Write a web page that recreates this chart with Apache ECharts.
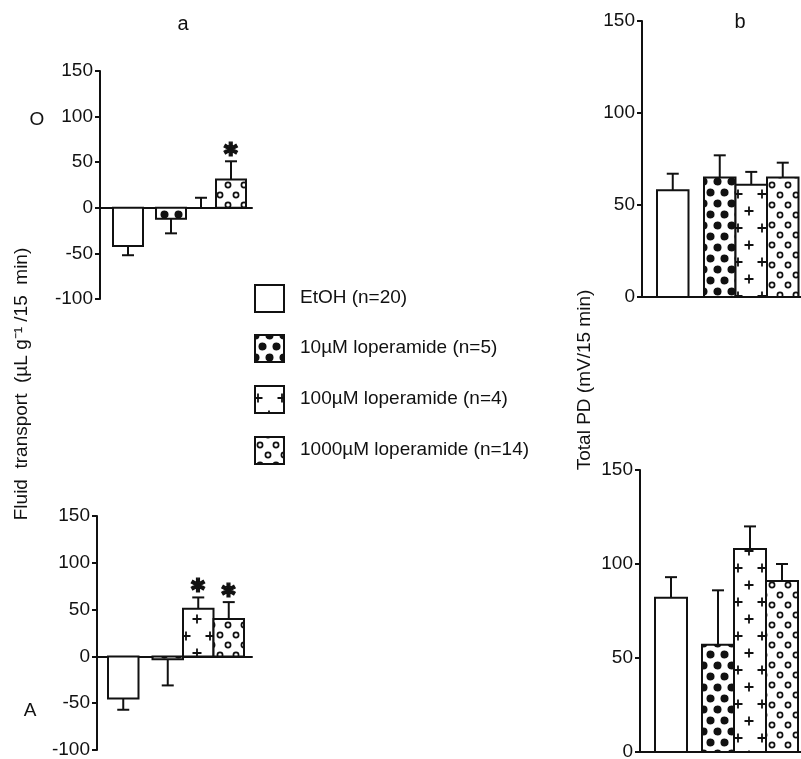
<!DOCTYPE html>
<html>
<head>
<meta charset="utf-8">
<script src="https://cdn.jsdelivr.net/npm/echarts@6/dist/echarts.min.js"></script>
<style>
  html, body { margin: 0; padding: 0; background: #fff; }
  #chart { width: 801px; height: 759px; }
</style>
</head>
<body>
<div id="chart"></div>
<script>
// groups (legend order)
const groups = ['EtOH (n=20)', '10µM loperamide (n=5)', '100µM loperamide (n=4)', '1000µM loperamide (n=14)'];

// fluid transport, panel a (O and A), mean and SEM
const fluidO = [-42, -12, 0, 31];
const fluidOErr = [10, 16, 11, 20];
const fluidOSig = [0, 0, 0, 1];
const fluidA = [-45, -3, 51, 40];
const fluidAErr = [12, 28, 12, 18];
const fluidASig = [0, 0, 1, 1];

// total PD, panel b
const pdO = [58, 65, 61, 65];
const pdOErr = [9, 12, 7, 8];
const pdA = [82, 57, 108, 91];
const pdAErr = [11, 29, 12, 9];

const fluidTicks = { min: -100, max: 150, interval: 50 };
const pdTicks = { min: 0, max: 150, interval: 50 };

const FONT = '"Liberation Sans", Arial, sans-serif';
const INK = '#111';

// fill patterns for the bars
function makePattern(kind) {
  const c = document.createElement('canvas');
  const ctx = c.getContext('2d');
  if (kind === 'dots') {
    c.width = 14; c.height = 22;
    ctx.fillStyle = '#fff'; ctx.fillRect(0, 0, 14, 22);
    ctx.fillStyle = INK;
    [[3.5, 5.5], [10.5, 16.5], [17.5, 5.5], [-3.5, 16.5], [10.5, -5.5], [3.5, 27.5]].forEach(p => {
      ctx.beginPath(); ctx.arc(p[0], p[1], 4, 0, Math.PI * 2); ctx.fill();
    });
  } else if (kind === 'plus') {
    c.width = 24; c.height = 34;
    ctx.fillStyle = '#fff'; ctx.fillRect(0, 0, 24, 34);
    ctx.strokeStyle = INK; ctx.lineWidth = 1.8;
    [[5, 7], [18, 24]].forEach(p => {
      ctx.beginPath();
      ctx.moveTo(p[0] - 4.5, p[1]); ctx.lineTo(p[0] + 4.5, p[1]);
      ctx.moveTo(p[0], p[1] - 4.5); ctx.lineTo(p[0], p[1] + 4.5);
      ctx.stroke();
    });
  } else if (kind === 'circles') {
    c.width = 16; c.height = 20;
    ctx.fillStyle = '#fff'; ctx.fillRect(0, 0, 16, 20);
    ctx.strokeStyle = INK; ctx.lineWidth = 1.7;
    [[4, 5], [12, 15]].forEach(p => {
      ctx.beginPath(); ctx.arc(p[0], p[1], 2.6, 0, Math.PI * 2); ctx.stroke();
    });
  } else {
    c.width = 4; c.height = 4;
    ctx.fillStyle = '#fff'; ctx.fillRect(0, 0, 4, 4);
  }
  return { image: c, repeat: 'repeat' };
}
const fills = ['none', 'dots', 'plus', 'circles'].map(makePattern);

// bar layout per panel (px): gap before first bar, bar width, gap after first bar
const layouts = [
  { pad: 13, barW: 30, gap: 13 },
  { pad: 11, barW: 30.5, gap: 14 },
  { pad: 15, barW: 31.5, gap: 15.5 },
  { pad: 15, barW: 32, gap: 15 }
];

function makeRender(L) {
  return function (params, api) {
    const i = api.value(0), v = api.value(1), e = api.value(2), s = api.value(3);
    const band = api.size([1, 0])[0];
    const start = api.coord([0, 0])[0] - band / 2;
    const x = start + L.pad + i * L.barW + (i > 0 ? L.gap : 0);
    const cx = x + L.barW / 2;
    const y0 = api.coord([i, 0])[1];
    const y1 = api.coord([i, v])[1];
    const y2 = api.coord([i, v + (v >= 0 ? e : -e)])[1];
    const kids = [];
    kids.push({
      type: 'line', shape: { x1: cx, y1: y1, x2: cx, y2: y2 },
      style: { stroke: INK, lineWidth: 2 }
    });
    kids.push({
      type: 'line', shape: { x1: cx - 6, y1: y2, x2: cx + 6, y2: y2 },
      style: { stroke: INK, lineWidth: 2 }
    });
    if (v !== 0) {
      kids.push({
        type: 'rect',
        shape: { x: x, y: Math.min(y0, y1), width: L.barW, height: Math.abs(y1 - y0) },
        style: { fill: fills[i], stroke: INK, lineWidth: 2 }
      });
    }
    if (s) {
      kids.push({
        type: 'text', x: cx, y: y2 - 10,
        style: { text: '✱', fill: INK, stroke: INK, lineWidth: 1.2, font: 'bold 19px "DejaVu Sans"', align: 'center', verticalAlign: 'middle' }
      });
    }
    return { type: 'group', children: kids };
  };
}

function toData(vals, errs, sig) {
  return vals.map((v, i) => [i, v, errs[i], sig ? sig[i] : 0]);
}

const grids = [
  { left: 100, top: 71, width: 152, height: 228 },
  { left: 97, top: 516, width: 155, height: 234 },
  { left: 642, top: 21, width: 160, height: 276 },
  { left: 640, top: 470, width: 161, height: 282 }
];

const panelData = [
  toData(fluidO, fluidOErr, fluidOSig),
  toData(fluidA, fluidAErr, fluidASig),
  toData(pdO, pdOErr),
  toData(pdA, pdAErr)
];
const panelTicks = [fluidTicks, fluidTicks, pdTicks, pdTicks];

const chart = echarts.init(document.getElementById('chart'), null, { renderer: 'canvas' });

const option = {
  backgroundColor: '#fff',
  animation: false,
  grid: grids.map(g => Object.assign({ outerBoundsMode: 'none', containLabel: false }, g)),
  xAxis: grids.map((g, k) => ({
    type: 'category', gridIndex: k, data: groups,
    axisLine: { show: true, onZero: true, lineStyle: { color: INK, width: 2 } },
    axisTick: { show: false }, axisLabel: { show: false }, splitLine: { show: false }
  })),
  yAxis: grids.map((g, k) => Object.assign({
    type: 'value', gridIndex: k,
    axisLine: { show: true, lineStyle: { color: INK, width: 2 } },
    axisTick: { show: true, length: 5, lineStyle: { color: INK, width: 2 } },
    axisLabel: { color: INK, fontSize: 19, fontFamily: FONT, margin: 7 },
    splitLine: { show: false }
  }, panelTicks[k])),
  series: panelData.map((d, k) => ({
    type: 'custom', xAxisIndex: k, yAxisIndex: k,
    renderItem: makeRender(layouts[k]),
    encode: { x: 0, y: 1 },
    data: d,
    clip: false
  })),
  graphic: [
    { type: 'text', x: 183, y: 24, style: { text: 'a', font: '20px ' + FONT, fill: INK, align: 'center', verticalAlign: 'middle' } },
    { type: 'text', x: 740, y: 22, style: { text: 'b', font: '20px ' + FONT, fill: INK, align: 'center', verticalAlign: 'middle' } },
    { type: 'text', x: 37, y: 120, style: { text: 'O', font: '19px ' + FONT, fill: INK, align: 'center', verticalAlign: 'middle' } },
    { type: 'text', x: 30, y: 711, style: { text: 'A', font: '19px ' + FONT, fill: INK, align: 'center', verticalAlign: 'middle' } },
    { type: 'text', x: 22, y: 384, rotation: Math.PI / 2,
      style: { text: 'Fluid  transport  (µL g⁻¹ /15  min)', font: '19px ' + FONT, fill: INK, align: 'center', verticalAlign: 'middle' } },
    { type: 'text', x: 585, y: 380, rotation: Math.PI / 2,
      style: { text: 'Total PD (mV/15 min)', font: '19px ' + FONT, fill: INK, align: 'center', verticalAlign: 'middle' } }
  ].concat(groups.flatMap((name, i) => {
    const cy = [298, 348, 399, 450][i];
    return [
      { type: 'rect', shape: { x: 255, y: cy - 13, width: 29, height: 27 },
        style: { fill: fills[i], stroke: INK, lineWidth: 2 } },
      { type: 'text', x: 300, y: cy,
        style: { text: name, font: '19px ' + FONT, fill: INK, verticalAlign: 'middle' } }
    ];
  }))
};

chart.setOption(option);
</script>
</body>
</html>
